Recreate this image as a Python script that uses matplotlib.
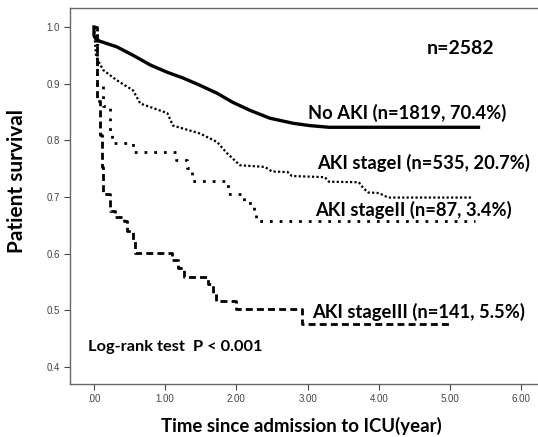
import numpy as np
import matplotlib
matplotlib.use('Agg')
import matplotlib.pyplot as plt

# survival curves (time in years, survival fraction)
# the two large groups have so many tiny steps that they read as smooth lines
no_aki_t = [0.0, 0.0, 0.02, 0.08, 0.32, 0.55, 0.79, 1.03, 1.25, 1.49, 1.73, 1.95, 2.19, 2.47, 2.8, 3.03, 3.3, 5.4]
no_aki_s = [1.0, 0.985, 0.98, 0.975, 0.965, 0.95, 0.933, 0.92, 0.91, 0.897, 0.883, 0.867, 0.853, 0.839, 0.83, 0.826, 0.823, 0.823]

stage1_t = [0.0, 0.03, 0.13, 0.32, 0.55, 0.65, 1.03, 1.11, 1.49, 1.73, 1.87, 2.05, 2.4, 2.5, 2.72, 2.78, 3.24, 3.3, 3.72, 3.78,
            3.85, 4.0, 4.13, 5.3]
stage1_s = [1.0, 0.947, 0.924, 0.906, 0.888, 0.865, 0.848, 0.826, 0.812, 0.797, 0.777, 0.756, 0.753, 0.745, 0.744, 0.737, 0.735,
            0.727, 0.726, 0.716, 0.708, 0.707, 0.699, 0.699]

stage2_t = [0.0, 0.04, 0.13, 0.22, 0.25, 0.55, 1.15, 1.3, 1.38, 1.88, 2.1, 2.25, 2.28, 5.35]
stage2_s = [1.0, 0.9, 0.86, 0.81, 0.795, 0.78, 0.765, 0.752, 0.728, 0.706, 0.69, 0.676, 0.658, 0.658]

stage3_t = [0.0, 0.04, 0.08, 0.11, 0.13, 0.22, 0.3, 0.42, 0.46, 0.55, 0.58, 1.1, 1.18, 1.27, 1.6, 1.67, 1.71, 2.0, 2.92, 4.98]
stage3_s = [1.0, 0.87, 0.81, 0.753, 0.706, 0.676, 0.664, 0.658, 0.64, 0.623, 0.602, 0.588, 0.575, 0.558, 0.547, 0.53, 0.517, 0.502, 0.476, 0.476]

curve_labels = ['No AKI (n=1819, 70.4%)', 'AKI stageI (n=535, 20.7%)',
                'AKI stageII (n=87, 3.4%)', 'AKI stageIII (n=141, 5.5%)']
x_ticks = [0, 1, 2, 3, 4, 5, 6]
x_tick_labels = ['.00', '1.00', '2.00', '3.00', '4.00', '5.00', '6.00']
y_ticks = [0.4, 0.5, 0.6, 0.7, 0.8, 0.9, 1.0]

fig = plt.figure(figsize=(5.38, 4.37), dpi=100)
ax = fig.add_axes([0.131, 0.1213, 0.869, 0.8604])

ax.plot(no_aki_t, no_aki_s, color='black', lw=2.4)
ax.plot(stage1_t, stage1_s, color='black', lw=1.6, linestyle=(0, (1, 1)))
ax.step(stage2_t, stage2_s, where='post', color='black', lw=2.0, linestyle=(0, (1, 2.5)))
ax.step(stage3_t, stage3_s, where='post', color='black', lw=2.0, linestyle=(0, (2.5, 1.5)))

ax.set_xlim(-0.33, 6.236)
ax.set_ylim(0.37, 1.0335)
ax.set_xticks(x_ticks)
ax.set_xticklabels(x_tick_labels)
ax.set_yticks(y_ticks)
ax.set_yticklabels([f'{v:.1f}' for v in y_ticks])
ax.tick_params(labelsize=7, colors='#444444', length=4, width=0.8)
for lbl in ax.get_xticklabels() + ax.get_yticklabels():
    lbl.set_family('Liberation Sans')
ax.spines['right'].set_visible(False)
for side in ('left', 'top', 'bottom'):
    ax.spines[side].set_color('#666666')
    ax.spines[side].set_linewidth(1.0)

font = dict(family='Lato', weight='bold', color='black')
ax.text(4.67, 0.962, 'n=2582', fontsize=14, va='center', ha='left', **font)
ax.text(3.0, 0.848, curve_labels[0], fontsize=13.2, va='center', ha='left', **font)
ax.text(3.14, 0.760, curve_labels[1], fontsize=13.2, va='center', ha='left', **font)
ax.text(3.1, 0.677, curve_labels[2], fontsize=13.2, va='center', ha='left', **font)
ax.text(3.06, 0.497, curve_labels[3], fontsize=13.2, va='center', ha='left', **font)
ax.text(-0.08, 0.435, 'Log-rank test  P < 0.001', fontsize=11.8, va='center', ha='left', **font)

fig.text(0.031, 0.586, 'Patient survival', rotation=90, fontsize=15, va='center', ha='center', **font)
fig.text(0.561, 0.025, 'Time since admission to ICU(year)', fontsize=13.4, va='center', ha='center', **font)

fig.savefig('out.png', dpi=100)
